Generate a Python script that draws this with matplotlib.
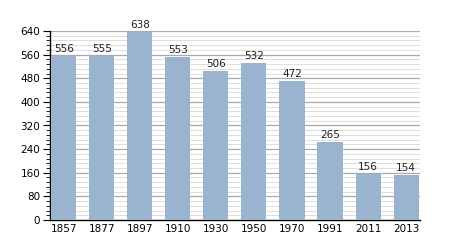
import numpy as np
from matplotlib import pyplot as plt
from matplotlib.ticker import MultipleLocator

years = ['1857', '1877', '1897', '1910', '1930', '1950', '1970', '1991', '2011', '2013']
population = [556, 555, 638, 553, 506, 532, 472, 265, 156, 154]

fig = plt.figure(figsize=(4.5, 2.5), dpi=100)
ax = fig.add_axes([0.111, 0.12, 0.822, 0.756])

x = np.arange(len(years))
bars = ax.bar(x, population, width=0.66, color='#9ab3cf', zorder=3)

for xi, v in zip(x, population):
    ax.text(xi, v + 6, str(v), ha='center', va='bottom', fontsize=7.5, color='#222222', zorder=4)

ax.set_xlim(-0.36, 9.36)
ax.set_ylim(0, 640)
ax.set_xticks(x)
ax.set_xticklabels(years)
ax.yaxis.set_major_locator(MultipleLocator(80))
ax.yaxis.set_minor_locator(MultipleLocator(16))

ax.grid(axis='y', which='major', color='#aaaaaa', linewidth=0.9, zorder=0)
ax.grid(axis='y', which='minor', color='#dddddd', linewidth=0.7, zorder=0)

ax.spines['top'].set_visible(False)
ax.spines['right'].set_visible(False)
ax.spines['left'].set_linewidth(1.0)
ax.spines['bottom'].set_linewidth(1.0)

ax.tick_params(axis='x', length=0, labelsize=7.5, pad=3)
ax.tick_params(axis='y', which='major', length=5, labelsize=7.5, pad=2)
ax.tick_params(axis='y', which='minor', length=3)

fig.savefig('out.png', dpi=100)
